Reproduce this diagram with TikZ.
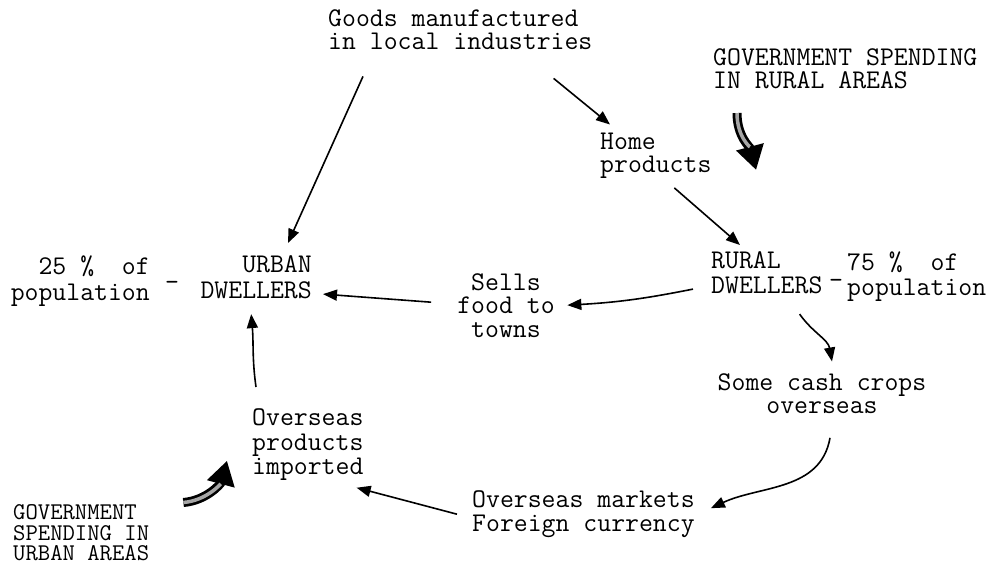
\documentclass[tikz,border=0pt]{standalone}
\usepackage{fontspec}
\usetikzlibrary{arrows.meta}

\tikzset{
	txt/.style={inner sep=0pt, font=\fontsize{27}{24}\selectfont\ttfamily},
	arr/.style={line width=1.6pt, -{Triangle[length=14pt,width=11pt]}},
	fat/.style={line width=9pt, -{Triangle[length=24pt,width=27pt]}},
	fatfill/.style={line width=3.5pt, gray!70, shorten >=24pt},
}

\begin{document}
\begin{tikzpicture}[x=1pt,y=1pt]
		\useasboundingbox (0,0) rectangle (1002,-573);

		\node[txt, anchor=north west, align=left, font=\fontsize{27}{23}\selectfont\ttfamily] (goods) at (328,-9) {Goods manufactured\\in local industries};
		\node[txt, anchor=north west, align=left, font=\fontsize{27}{23}\selectfont\ttfamily] (govrural) at (713,-48.5) {GOVERNMENT SPENDING\\IN RURAL AREAS};
		\node[txt, anchor=north west, align=left, font=\fontsize{27}{23}\selectfont\ttfamily] (home) at (600,-133) {Home\\products};
		\node[txt, anchor=north west, align=left, font=\fontsize{27}{25}\selectfont\ttfamily] (rural) at (711,-251.5) {RURAL\\DWELLERS};
		\node[txt, anchor=north west, align=left, font=\fontsize{27}{25}\selectfont\ttfamily] (pctrural) at (847,-251.5) {75 \%~ of\\population};
		\node[txt] (dashrural) at (836,-284) {-};
		\node[txt, anchor=north east, align=right, font=\fontsize{27}{26}\selectfont\ttfamily] (urban) at (312,-255.5) {URBAN\\DWELLERS};
		\node[txt, anchor=north east, align=right, font=\fontsize{27}{26}\selectfont\ttfamily] (pcturban) at (150,-255.5) {25 \%~ of\\population};
		\node[txt] (dashurban) at (172,-286) {-};
		\node[txt, anchor=north, align=center, font=\fontsize{27}{23.5}\selectfont\ttfamily] (sells) at (506,-273) {Sells\\food to\\towns};
		\node[txt, anchor=north, align=center, font=\fontsize{27}{23.5}\selectfont\ttfamily] (cash) at (822,-373) {Some cash crops\\overseas};
		\node[txt, anchor=north west, align=left, font=\fontsize{27}{24.5}\selectfont\ttfamily] (imports) at (252,-408.5) {Overseas\\products\\imported};
		\node[txt, anchor=north west, align=left, font=\fontsize{27}{24}\selectfont\ttfamily] (markets) at (472,-490.5) {Overseas markets\\Foreign currency};
		\node[txt, anchor=north west, align=left, font=\fontsize{24}{20.5}\selectfont\ttfamily] (govurban) at (13,-504.5) {GOVERNMENT\\SPENDING IN\\URBAN AREAS};

		\draw[arr] ([xshift=35pt,yshift=-27pt]goods.south west) -- ([xshift=-24pt,yshift=12.5pt]urban.north east);
		\draw[arr] ([xshift=-39pt,yshift=-29pt]goods.south east) -- ([xshift=10pt,yshift=8.5pt]home.north west);
		\draw[arr] ([xshift=18.5pt,yshift=-9pt]home.south) -- ([xshift=29pt,yshift=6.5pt]rural.north west);
		\draw[arr] ([xshift=-18pt,yshift=5pt]rural.south west) to[bend left=4] ([xshift=12.5pt]sells.east);
		\draw[arr] ([xshift=-26pt,yshift=3pt]sells.west) -- ([xshift=11pt,yshift=5pt]urban.south east);
		\draw[arr] ([xshift=-23pt,yshift=-20pt]rural.south east) to[out=-55,in=100] ([xshift=10pt,yshift=11.5pt]cash.north);
		\draw[arr] ([xshift=8pt,yshift=-24pt]cash.south) to[out=-100,in=25] ([xshift=16pt,yshift=6pt]markets.east);
		\draw[arr] ([xshift=-15pt]markets.west) -- ([xshift=-7pt,yshift=-7pt]imports.south east);
		\draw[arr] ([xshift=4pt,yshift=21.5pt]imports.north west) to[out=98,in=-85] ([xshift=-5pt,yshift=-15pt]urban.south);

		\draw[fat] ([xshift=24pt,yshift=-24pt]govrural.south west) to[out=-90,in=105] ([xshift=-10.7pt,yshift=81.5pt]rural.north);
		\draw[fatfill] ([xshift=24pt,yshift=-24pt]govrural.south west) to[out=-90,in=105] ([xshift=-10.7pt,yshift=81.5pt]rural.north);
		\draw[fat] ([xshift=34pt,yshift=2pt]govurban.north east) to[out=5,in=-105] ([xshift=-25pt,yshift=20pt]imports.south west);
		\draw[fatfill] ([xshift=34pt,yshift=2pt]govurban.north east) to[out=5,in=-105] ([xshift=-25pt,yshift=20pt]imports.south west);

	\end{tikzpicture}
\end{document}
